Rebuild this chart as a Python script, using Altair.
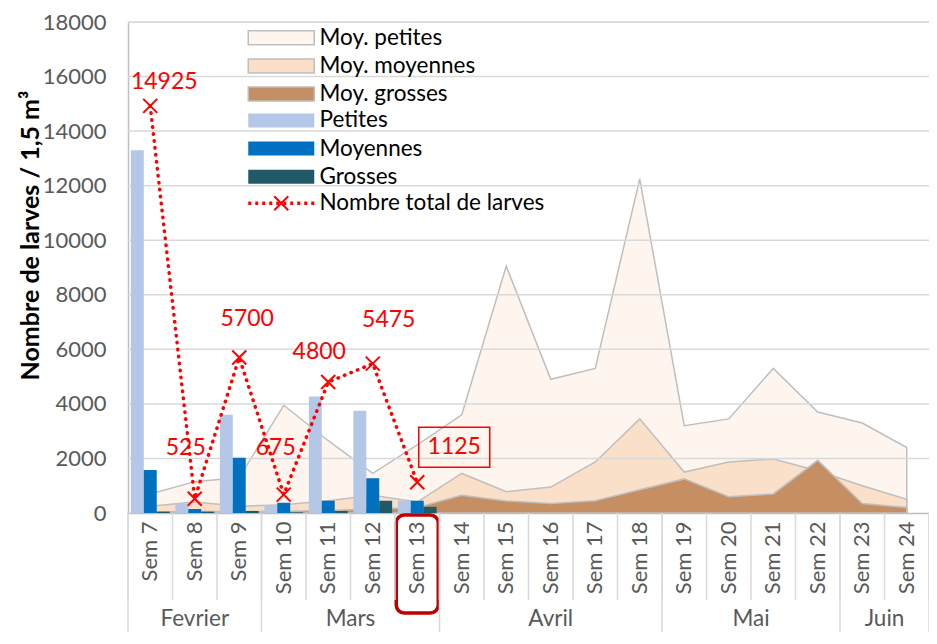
import altair as alt
import pandas as pd

# ---------------- data ----------------
weeks = ["Sem 7", "Sem 8", "Sem 9", "Sem 10", "Sem 11", "Sem 12", "Sem 13", "Sem 14", "Sem 15",
         "Sem 16", "Sem 17", "Sem 18", "Sem 19", "Sem 20", "Sem 21", "Sem 22", "Sem 23", "Sem 24"]
months = ["Fevrier", "Mars", "Avril", "Mai", "Juin"]
month_week_count = [3, 4, 5, 4, 2]

area_names = ["Moy. petites", "Moy. moyennes", "Moy. grosses"]
moy_petites = [700, 1150, 1300, 3950, 2650, 1450, 2500, 3600, 9050, 4900, 5300, 12250,
               3200, 3450, 5300, 3700, 3300, 2400]
moy_moyennes = [250, 400, 250, 300, 450, 650, 400, 1450, 780, 950, 1870, 3450,
                1500, 1870, 1980, 1550, 1000, 500]
moy_grosses = [40, 60, 50, 60, 90, 150, 200, 650, 440, 350, 450, 850,
               1250, 600, 700, 1930, 350, 200]

obs_weeks = ["Sem 7", "Sem 8", "Sem 9", "Sem 10", "Sem 11", "Sem 12", "Sem 13"]
bar_names = ["Petites", "Moyennes", "Grosses"]
petites = [13300, 325, 3600, 275, 4275, 3750, 450]
moyennes = [1575, 150, 2025, 375, 450, 1275, 450]
grosses = [50, 50, 75, 25, 75, 450, 225]

line_name = "Nombre total de larves"
total = [14925, 525, 5700, 675, 4800, 5475, 1125]

y_ticks = [0, 2000, 4000, 6000, 8000, 10000, 12000, 14000, 16000, 18000]
highlight_week = "Sem 13"
boxed_week = "Sem 13"

# ---------------- style ----------------
W, H = 801, 491
FONT = "Lato"
GRAY_TXT = "#595959"
area_fill = ["#FDF5EE", "#FADFC9", "#C68F63"]
bar_colors = ["#B4C7E7", "#0070C0", "#215967"]
RED = "#FF0000"
RECT_SYM = "M-4.714,-1H4.714V1H-4.714Z"
LINE_SYM = "M-4.714,0H4.714"
X_SYM = "M-1,-1L1,1M-1,1L1,-1"
LEG_FS = 22.5
LEG_X = 142
# label offsets (pixels) relative to each point, as placed on the original chart
label_shift = {"Sem 7": (14, -24), "Sem 8": (-9, -51), "Sem 9": (8, -39), "Sem 10": (-8, -47),
               "Sem 11": (-9, -30), "Sem 12": (16, -44), "Sem 13": (37, -35)}

# ---------------- tables ----------------
area_df = pd.DataFrame({
    "week": weeks * 3,
    "serie": [n for n in area_names for _ in weeks],
    "value": moy_petites + moy_moyennes + moy_grosses,
})
bar_df = pd.DataFrame({
    "week": obs_weeks * 3,
    "type": [n for n in bar_names for _ in obs_weeks],
    "value": petites + moyennes + grosses,
})
tot_df = pd.DataFrame({"week": obs_weeks, "value": total, "serie": line_name,
                       "marker": "x"})
grid_df = pd.DataFrame({"value": y_ticks[1:]})

bounds = [0]
for c in month_week_count:
    bounds.append(bounds[-1] + c)
sep_df = pd.DataFrame({"i": list(range(len(weeks) + 1))})
msep_df = pd.DataFrame({"i": bounds})
mlab_df = pd.DataFrame({"month": months,
                        "mid": [(bounds[k] + bounds[k + 1]) / 2 for k in range(len(months))]})

# ---------------- encodings ----------------
x_week = alt.X("week:N", sort=weeks,
               scale=alt.Scale(type="band", domain=weeks, paddingInner=0, paddingOuter=0),
               axis=alt.Axis(title=None, labelAngle=-90, labelFontSize=22, labelColor=GRAY_TXT,
                             labelFont=FONT, ticks=False, labelPadding=8, domainColor="#BFBFBF",
                             domainWidth=1.5, grid=False))
y_scale = alt.Scale(domain=[0, 18000], nice=False, zero=True)
y_val = alt.Y("value:Q", scale=y_scale, stack=None,
              axis=alt.Axis(values=y_ticks, format="d", labelFontSize=22, labelColor=GRAY_TXT,
                            labelFont=FONT, ticks=False, labelPadding=22, domainColor="#BFBFBF",
                            domainWidth=1.5, grid=False, title="Nombre de larves / 1,5 m³",
                            titleFont=FONT, titleFontSize=25, titleFontWeight="bold",
                            titleColor="black", titleAngle=-90, titleX=-98, titleY=213,
                            titleAlign="center", titleBaseline="middle"))

legend_area = alt.Legend(title=None, orient="none", legendX=LEG_X, legendY=4.6,
                         symbolType=RECT_SYM, symbolSize=196, symbolStrokeColor="#BFBFBF",
                         symbolStrokeWidth=1.5, labelFontSize=LEG_FS, labelColor="black",
                         labelFont=FONT, labelOffset=27, labelLimit=0, rowPadding=5.1,
                         padding=0)
legend_bar = alt.Legend(title=None, orient="none", legendX=LEG_X, legendY=87.2,
                        symbolType=RECT_SYM, symbolSize=196, symbolStrokeWidth=0,
                        labelFontSize=LEG_FS, labelColor="black", labelFont=FONT,
                        labelOffset=27, labelLimit=0, rowPadding=5.1, padding=0)
legend_line = alt.Legend(title=None, orient="none", legendX=LEG_X, legendY=170,
                         symbolType=LINE_SYM, symbolSize=196, symbolStrokeColor=RED,
                         symbolStrokeWidth=3.5, symbolDash=[3, 4], labelFontSize=LEG_FS,
                         labelColor="black", labelFont=FONT, labelOffset=27, labelLimit=0,
                         padding=0)
legend_x = alt.Legend(title=None, orient="none", legendX=LEG_X, legendY=170,
                      symbolType=X_SYM, symbolSize=196, symbolStrokeColor=RED,
                      symbolStrokeWidth=2, symbolFillColor="transparent", labelExpr="''",
                      labelFontSize=LEG_FS, labelOffset=27, padding=0)

fill_enc = alt.Fill("serie:N", scale=alt.Scale(domain=area_names, range=area_fill),
                    legend=legend_area)

# ---------------- layers ----------------
areas = [
    alt.Chart(area_df).transform_filter(alt.datum.serie == n)
    .mark_area(stroke="#BFBFBF", strokeWidth=1.5, opacity=1)
    .encode(x=x_week, y=y_val, fill=fill_enc)
    for n in area_names
]

grid = alt.Chart(grid_df).mark_rule(color="#D9D9D9", strokeWidth=1.5).encode(
    y=alt.Y("value:Q", scale=y_scale), x=alt.value(0), x2=alt.value(W))

bars = alt.Chart(bar_df).mark_bar().encode(
    x=x_week,
    xOffset=alt.XOffset("type:N", sort=bar_names,
                        scale=alt.Scale(domain=bar_names, paddingInner=0, paddingOuter=0.22)),
    y=y_val,
    color=alt.Color("type:N", scale=alt.Scale(domain=bar_names, range=bar_colors),
                    legend=legend_bar),
)

line = alt.Chart(tot_df).mark_line(strokeDash=[0.5, 6.5], strokeCap="round",
                                   strokeWidth=3.5).encode(
    x=x_week, y=y_val,
    stroke=alt.Stroke("serie:N", scale=alt.Scale(domain=[line_name], range=[RED]),
                      legend=legend_line))

points = alt.Chart(tot_df).mark_point(filled=False, size=196, strokeWidth=2, opacity=1).encode(
    x=x_week, y=y_val, color=alt.value(RED),
    shape=alt.Shape("marker:N", scale=alt.Scale(domain=["x"], range=[X_SYM]),
                    legend=legend_x))

labels = []
for wk in obs_weeks:
    dx, dy = label_shift[wk]
    labels.append(
        alt.Chart(tot_df).transform_filter(alt.datum.week == wk)
        .mark_text(font=FONT, fontSize=23, color=RED, dx=dx, dy=dy, baseline="middle")
        .encode(x=x_week, y=y_val, text=alt.Text("value:Q", format="d")))

bdx, bdy = label_shift[boxed_week]
label_box = alt.Chart(tot_df).transform_filter(alt.datum.week == boxed_week).mark_point(
    shape="M-1,-0.563H1V0.563H-1Z", size=5041, filled=False, color=RED, strokeWidth=1.5,
    opacity=1, xOffset=bdx, yOffset=bdy).encode(x=x_week, y=y_val)

hl = alt.Chart(pd.DataFrame({"week": [highlight_week]})).mark_rect(
    fillOpacity=0, stroke="#C00000", strokeWidth=3.5, cornerRadius=8, width=42).encode(
    x=x_week, y=alt.value(H + 2), y2=alt.value(H + 100))

main = alt.layer(*areas, grid, bars, line, points, *labels, label_box, hl)

xi = alt.X("i:Q", scale=alt.Scale(domain=[0, len(weeks)], nice=False, zero=False), axis=None)
week_seps = alt.Chart(sep_df).mark_rule(color="#D9D9D9", strokeWidth=1.5).encode(
    x=xi, y=alt.value(H), y2=alt.value(H + 87))
month_seps = alt.Chart(msep_df).mark_rule(color="#D9D9D9", strokeWidth=1.5).encode(
    x=xi, y=alt.value(H), y2=alt.value(H + 119))
month_labels = alt.Chart(mlab_df).mark_text(font=FONT, fontSize=22.5, color=GRAY_TXT,
                                            baseline="middle").encode(
    x=alt.X("mid:Q", scale=alt.Scale(domain=[0, len(weeks)], nice=False, zero=False), axis=None),
    y=alt.value(H + 106), text="month:N")
decor = alt.layer(week_seps, month_seps, month_labels)

chart = alt.layer(main, decor).resolve_scale(x="independent").properties(
    width=W, height=H,
    padding={"left": 120, "top": 14, "right": 0, "bottom": 119},
    autosize=alt.AutoSizeParams(type="none"),
).configure_view(stroke=None).configure(font=FONT)

chart.save("out.html", embed_options={"renderer": "svg", "actions": False})
